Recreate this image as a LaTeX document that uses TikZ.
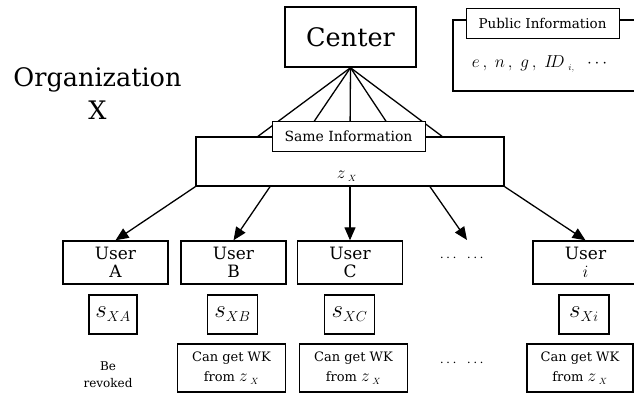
\documentclass[tikz,border=0pt]{standalone}
\usepackage{amsmath}
\usepackage{amssymb}
\usepackage{fontspec}
\setmainfont{DejaVu Serif}
\usepackage{tikz}
\usetikzlibrary{positioning}
\usetikzlibrary{arrows.meta}

\newcommand{\zX}{{\fontsize{18}{17}\selectfont$z_{\;\scriptscriptstyle X}$}}

\tikzset{
  mybox/.style={
    draw=black,
    shape=rectangle,
    line width=1.4pt,
    fill=white,
    align=center,
    inner sep=1pt,
  },
  userbox/.style={
    mybox,
    minimum width=105pt,
    minimum height=43pt,
    font=\fontsize{17}{18}\selectfont
  },
  keybox/.style={
    mybox,
    minimum width=50pt,
    minimum height=39pt,
    font=\fontsize{27}{27}\selectfont
  },
  wkbox/.style={
    mybox,
    minimum width=108pt,
    minimum height=48pt,
    font=\fontsize{13}{20}\selectfont
  },
  infolabel/.style={
    mybox,
    line width=1pt,
    minimum height=30pt,
    font=\fontsize{14}{14}\selectfont
  },
  myarrow/.style={
    draw=black,
    line width=1.3pt,
    -{Triangle[length=13pt,width=11pt]},
  },
  myline/.style={
    draw=black,
    line width=1.3pt,
  },
}

\begin{document}
\begin{tikzpicture}[x=1pt, y=-1pt]
    \useasboundingbox (0,0) rectangle (634,394);

    \node[align=center, font=\fontsize{25.5}{33}\selectfont] (org) at (97.5,94) {Organization\\X};
    \node[mybox, minimum width=131pt, minimum height=60pt, font=\fontsize{25.5}{25.5}\selectfont] (center) at (350.5,37) {Center};

    % public part, cut at the right border
    \node[mybox, minimum width=187pt, minimum height=71pt] (public) at (546.5,55.5) {};
    \node[infolabel, minimum width=153pt, font=\fontsize{13.5}{13.5}\selectfont] (publab) at (542.5,23) {Public Information};
    \node[font=\fontsize{19}{19}\selectfont] (pubtxt) at (541,64) {$e\,,\;n\,,\;g\,,\;I\!D_{\;\scriptscriptstyle i,}\;\;\cdots$};

    \node[mybox, minimum width=308pt, minimum height=49pt] (same) at (350,161.5) {};
    \foreach \dx in {-92,-46,0,46,92}
      \draw[myline] (center.south) -- ([xshift=\dx pt]same.north);
    \node[infolabel, minimum width=153pt] (samelab) at (348.5,136.5) {Same Information};
    \node (sametxt) at (347,176) {\zX};

    \node[userbox] (userA) at (115.5,262.5) {User\\A};
    \node[userbox] (userB) at (233.5,262.5) {User\\B};
    \node[userbox] (userC) at (350,262.5) {User\\C};
    \node[font=\fontsize{15}{15}\selectfont] (dotsU) at (463,258) {$\cdots\;\;\cdots$};
    \node[userbox] (userI) at (585.5,262.5) {User\\$i$};
    \coordinate (dotsTip) at (467,240);

    \draw[myarrow] (same.south west) -- (userA.north);
    \draw[myarrow] ([xshift=-80pt]same.south) -- (userB.north);
    \draw[myarrow] (same.south) -- (userC.north);
    \draw[myarrow] ([xshift=80pt]same.south) -- (dotsTip);
    \draw[myarrow] (same.south east) -- (userI.north);

    \node[keybox, minimum width=48pt] (sA) at (113,314.5) {$s_{\scriptscriptstyle XA}$};
    \node[keybox] (sB) at (232.5,314.5) {$s_{\scriptscriptstyle XB}$};
    \node[keybox] (sC) at (349.5,314.5) {$s_{\scriptscriptstyle XC}$};
    \node[keybox] (sI) at (584,314.5) {$s_{\scriptscriptstyle Xi}$};

    \node[align=center, font=\fontsize{12}{17}\selectfont] (revA) at (108,375) {Be\\revoked};
    \node[wkbox] (wkB) at (231.5,368) {Can get WK\\from \zX};
    \node[wkbox] (wkC) at (353.5,368) {Can get WK\\from \zX};
    \node[font=\fontsize{15}{15}\selectfont] (dotsW) at (463,363) {$\cdots\;\;\cdots$};
    \node[wkbox, minimum width=106pt] (wkI) at (580,368) {Can get WK\\from \zX};
\end{tikzpicture}
\end{document}
